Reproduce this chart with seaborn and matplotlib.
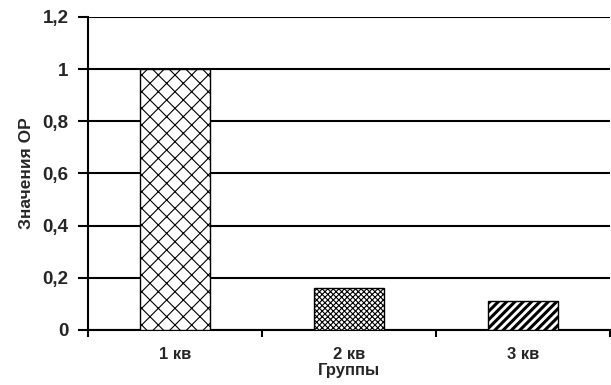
import matplotlib
matplotlib.use("Agg")
import matplotlib.pyplot as plt
import pandas as pd
import seaborn as sns

# values
groups = ["1 кв", "2 кв", "3 кв"]
values = [1.0, 0.16, 0.11]
hatches = ["xx", "xxxxxx", "////"]
y_ticks = [0, 0.2, 0.4, 0.6, 0.8, 1.0, 1.2]
y_labels = ["0", "0,2", "0,4", "0,6", "0,8", "1", "1,2"]

df = pd.DataFrame({"Группы": groups, "OR": values})

sns.set_style("white")
plt.rcParams["font.family"] = ["Liberation Sans", "DejaVu Sans"]
plt.rcParams["font.weight"] = "bold"
plt.rcParams["hatch.color"] = "black"
plt.rcParams["hatch.linewidth"] = 0.8

fig = plt.figure(figsize=(6.11, 3.85), dpi=100)
ax = fig.add_axes([0.144, 0.143, 0.854, 0.813])

sns.barplot(data=df, x="Группы", y="OR", order=groups, color="white",
            width=0.4, edgecolor="black", linewidth=1.0, ax=ax, zorder=3)

for bar, h in zip(ax.patches, hatches):
    bar.set_hatch(h)
    if h == "////":
        try:
            bar.set_hatch_linewidth(2.2)
        except AttributeError:
            pass

ax.set_xlim(-0.5, 2.5)
ax.set_ylim(0, 1.2)
ax.set_yticks(y_ticks)
ax.set_yticklabels(y_labels)
ax.yaxis.grid(True, color="black", linewidth=1.5, zorder=0)
ax.set_axisbelow(True)

for s in ["top", "right"]:
    ax.spines[s].set_visible(False)
for s in ["left", "bottom"]:
    ax.spines[s].set_color("black")
    ax.spines[s].set_linewidth(1.5)

ax.tick_params(axis="y", direction="out", length=7, width=1.5, color="black",
               labelsize=13.5, pad=7, left=True)
ax.set_xticks([-0.5, 0.5, 1.5, 2.5], minor=True)
ax.tick_params(axis="x", which="major", length=0, labelsize=12, pad=12)
ax.tick_params(axis="x", which="minor", direction="out", length=5, width=1.5,
               color="black", bottom=True)

ax.set_xlabel("Группы", fontsize=12, fontweight="bold", labelpad=1)
ax.set_ylabel("Значения ОР", fontsize=12.5, fontweight="bold", labelpad=6)

fig.savefig("out.png", dpi=100)
